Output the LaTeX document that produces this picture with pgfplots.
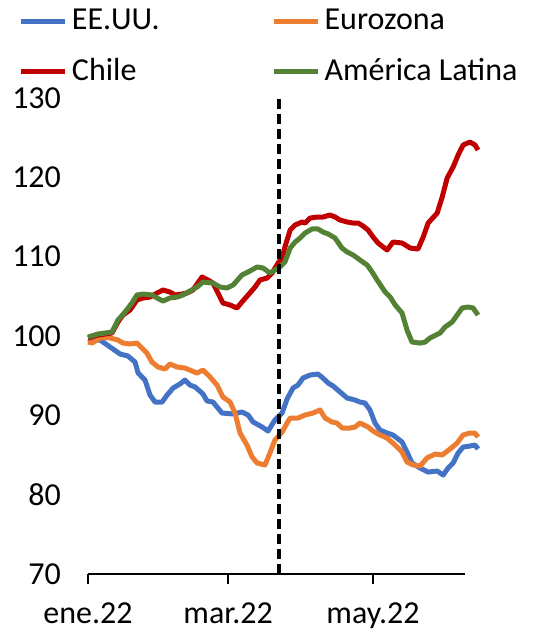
\documentclass[border=0pt]{standalone}
\usepackage{pgfplots}
\pgfplotsset{compat=1.18}
\usepackage{fontspec}
\setmainfont{Carlito}
\definecolor{cUS}{HTML}{4472C4}
\definecolor{cEZ}{HTML}{ED7D31}
\definecolor{cCL}{HTML}{C00000}
\definecolor{cLA}{HTML}{548235}
\begin{document}
\fontsize{16}{19}\selectfont
\begin{tikzpicture}
\begin{axis}[
  scale only axis,
  width=188.5pt, height=238pt,
  xmin=0, xmax=158.7,
  ymin=70, ymax=130,
  clip=false,
  axis x line*=bottom,
  axis y line*=left,
  y axis line style={draw=none},
  x axis line style={line width=1pt, -},
  xtick={0,59,120},
  xticklabels={ene.22,mar.22,may.22},
  ytick={70,80,...,130},
  tick align=outside,
  xtick style={line width=1pt, black},
  ytick style={draw=none},
  major tick length=5pt,
  /pgf/number format/assume math mode=true,
  tick label style={font=\fontsize{16}{19}\selectfont, black},
  yticklabel style={xshift=-3pt},
  xticklabel style={yshift=-4pt},
  legend columns=2,
  legend cell align=left,
  legend style={draw=none, fill=none, at={(-0.2,1.205)}, anchor=north west,
    font=\fontsize{16}{19}\selectfont, row sep=8pt,
    /tikz/every even column/.append style={column sep=54pt}},
  legend image code/.code={\draw[#1] (0pt,0pt) -- (22pt,0pt);},
  every axis plot/.append style={line width=2.5pt, line join=round},
]
\addplot[cUS] coordinates {
(0,99.62) (1.7,99.49) (5.1,99.49) (9.3,98.61) (13.5,97.73) (16.8,97.48) (19.8,96.72)
(21.1,95.33) (24.0,94.45) (26.1,92.56) (28.2,91.68) (31.2,91.68) (33.3,92.56) (35.8,93.44)
(38.7,93.95) (40.8,94.45) (42.9,93.82) (45.1,93.57) (48.4,92.69) (50.1,91.81) (52.6,91.68)
(56.4,90.29) (61.1,90.17) (64.8,90.42) (67.4,90.04) (69.5,89.16) (73.3,88.53) (75.8,88.02)
(78.7,89.41) (81.7,90.29) (83.8,92.06) (86.3,93.44) (88.4,93.82) (90.5,94.70) (93.5,95.08)
(96.8,95.21) (98.9,94.70) (101.1,94.07) (103.2,93.69) (106.1,92.94) (109.1,92.18)
(112.4,91.93) (114.5,91.68) (116.6,91.55) (118.7,90.67) (120.8,89.03) (122.9,88.15)
(125.9,87.77) (128.4,87.52) (132.2,86.64) (134.3,85.37) (136.4,83.99) (139.8,83.36)
(143.2,82.85) (147.0,82.98) (149.5,82.47) (151.6,83.36) (153.7,83.99) (155.8,85.25)
(157.9,86.00) (160.8,86.13) (162.9,86.26) (164.2,85.76)
};
\addlegendentry{EE.UU.}
\addplot[cEZ] coordinates {
(0,99.24) (1.7,99.11) (5.1,99.75) (9.3,99.75) (12.6,99.49) (14.7,99.11) (17.7,98.99)
(20.6,99.11) (22.7,98.48) (24.8,97.85) (26.9,96.72) (29.5,96.09) (32.4,95.84) (34.5,96.47)
(37.5,96.09) (40.8,95.96) (43.8,95.59) (45.9,95.33) (48.4,95.71) (51.4,94.83) (54.3,93.82)
(56.8,92.31) (59.8,91.68) (61.9,90.29) (64.0,87.77) (66.9,86.26) (69.1,84.74) (71.2,83.99)
(74.5,83.74) (76.6,85.25) (78.7,86.89) (81.7,87.90) (83.8,89.03) (85.1,89.66) (88.4,89.66)
(91.4,90.04) (94.7,90.29) (97.7,90.67) (99.8,89.66) (102.7,89.16) (104.8,89.03)
(107.0,88.40) (110.3,88.40) (112.4,88.53) (114.5,89.03) (117.9,88.53) (120.0,88.02)
(122.9,87.52) (125.9,87.14) (129.3,86.26) (132.2,85.37) (134.3,84.11) (136.8,83.74)
(139.8,83.61) (142.7,84.62) (146.1,85.12) (149.1,85.00) (152.4,85.76) (155.4,86.51)
(157.9,87.52) (160.8,87.77) (162.9,87.77) (164.2,87.26)
};
\addlegendentry{Eurozona}
\addplot[cCL] coordinates {
(0,99.75) (4.2,100.12) (10.1,100.38) (12.6,101.76) (14.7,102.64) (17.7,103.28) (20.6,104.54)
(23.2,104.79) (26.1,104.91) (29.1,105.42) (31.6,105.80) (34.5,105.54) (36.6,105.17)
(39.6,105.29) (41.7,105.42) (44.2,105.80) (48.0,107.44) (50.5,107.06) (52.6,106.68)
(54.7,105.42) (56.8,104.16) (59.8,103.91) (62.7,103.53) (64.8,104.28) (67.4,105.17)
(70.3,106.17) (72.4,107.06) (75.4,107.31) (77.5,107.94) (80.0,109.20) (81.7,109.83)
(82.9,111.22) (85.1,113.36) (87.2,113.99) (90.1,114.37) (91.4,114.24) (93.5,114.87)
(96.4,115.00) (98.9,115.00) (101.9,115.25) (104.0,115.00) (106.1,114.62) (109.1,114.37)
(111.6,114.24) (113.7,114.24) (115.8,113.86) (117.9,113.36) (120.0,112.48) (122.1,111.72)
(125.9,110.84) (128.4,111.85) (132.2,111.72) (135.6,111.09) (138.9,110.96) (141.1,112.48)
(143.2,114.24) (147.0,115.50) (149.1,117.52) (151.2,119.92) (153.7,121.30) (155.8,122.81)
(157.9,124.08) (160.8,124.45) (162.9,124.08) (164.2,123.44)
};
\addlegendentry{Chile}
\addplot[cLA] coordinates {
(0,99.87) (4.2,100.25) (10.1,100.50) (12.6,102.01) (15.6,103.02) (18.5,104.16) (20.6,105.17)
(23.2,105.29) (26.9,105.17) (29.1,104.79) (31.6,104.41) (34.5,104.79) (37.5,104.91)
(40.0,105.17) (42.1,105.54) (45.9,106.17) (48.4,106.80) (52.6,106.68) (55.6,106.17)
(58.5,106.05) (61.1,106.43) (64.8,107.69) (67.4,108.07) (71.2,108.70) (73.7,108.57)
(76.6,107.94) (78.7,108.32) (80.8,108.70) (82.9,109.33) (85.1,111.09) (87.2,111.85)
(89.3,112.35) (91.4,112.98) (94.3,113.49) (96.8,113.49) (98.9,113.11) (101.1,112.86)
(104.0,112.35) (106.9,111.09) (109.1,110.59) (111.6,110.21) (114.5,109.58) (117.5,108.95)
(119.6,108.07) (121.7,107.06) (125.1,105.54) (127.2,104.91) (129.3,103.91) (132.2,102.90)
(134.3,100.75) (136.4,99.24) (139.8,99.11) (141.9,99.24) (144.0,99.75) (148.2,100.38)
(150.3,101.13) (153.3,101.76) (155.4,102.64) (157.5,103.53) (160.0,103.66) (162.1,103.53)
(164.2,102.64)
};
\addlegendentry{América Latina}
\addplot[black, line width=2pt, dash pattern=on 5pt off 2.5pt, forget plot] coordinates {(80.4,70) (80.4,130)};
\end{axis}
\pgfresetboundingbox
\useasboundingbox ([shift={(-44pt,-28.5pt)}]current axis.south west) rectangle ([shift={(224pt,287pt)}]current axis.south west);
\end{tikzpicture}
\end{document}
